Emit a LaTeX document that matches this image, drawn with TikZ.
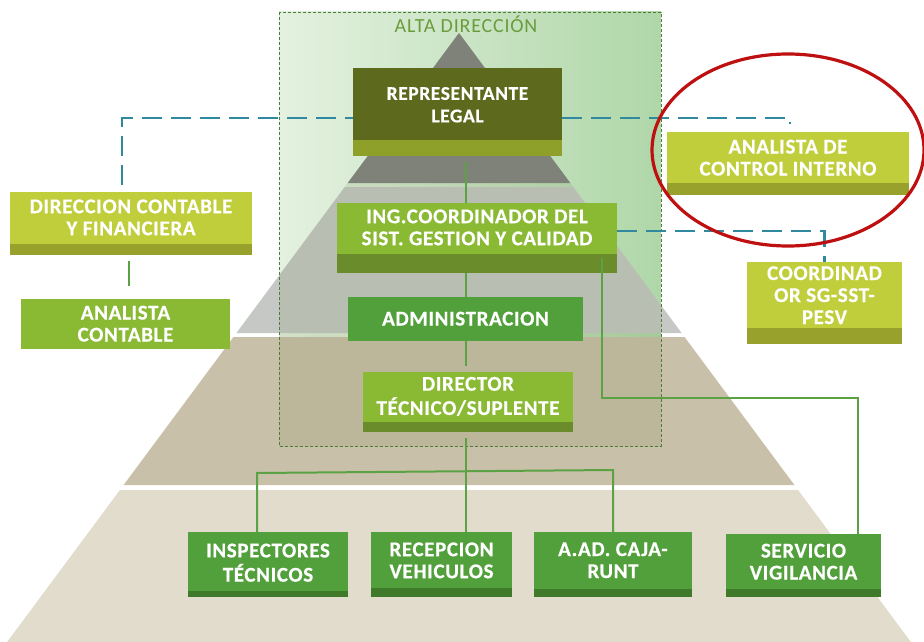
\documentclass[tikz,border=0pt]{standalone}
\usepackage{fontspec}
\setmainfont{Carlito}
\newfontfamily\boxfont[LetterSpace=3, FakeBold=0.5]{Carlito}
\newfontfamily\altafont[LetterSpace=4]{Carlito}
\usetikzlibrary{positioning}

\definecolor{altaL}{HTML}{E4F1E0}
\definecolor{altaR}{HTML}{AFD7A8}
\definecolor{altaline}{HTML}{4E7D3A}
\definecolor{altatext}{HTML}{6B9C3C}
\definecolor{layA}{HTML}{818181}
\definecolor{layB}{HTML}{C6C8C6}
\definecolor{layC}{HTML}{C9C0A9}
\definecolor{layD}{HTML}{E2DCCD}
\definecolor{boxolive}{HTML}{5D6A1E}
\definecolor{olivestrip}{HTML}{8FA02A}
\definecolor{boxlime}{HTML}{C1CE3C}
\definecolor{limestrip}{HTML}{98A12B}
\definecolor{boxleaf}{HTML}{8AB934}
\definecolor{leafstrip}{HTML}{6A8C2A}
\definecolor{boxgrass}{HTML}{52A03B}
\definecolor{grassstrip}{HTML}{3F7A2B}
\definecolor{linkgreen}{HTML}{5AA243}
\definecolor{dashteal}{HTML}{3189A0}
\definecolor{ringred}{HTML}{BE1010}

\newcommand{\boxtext}[2]{\raisebox{#1}[\height][\depth]{\begin{tabular}{@{}c@{}}#2\end{tabular}}}

\begin{document}
\begin{tikzpicture}[x=1pt, y=-1pt,
  orgbox/.style={inner sep=0pt, text=white, font=\boxfont\bfseries\fontsize{21}{22}\selectfont},
  strip/.style 2 args={path picture={\fill[#1] (path picture bounding box.south west) rectangle ([yshift=#2]path picture bounding box.south east);}},
  link/.style={draw=linkgreen, line width=2pt},
  dashlink/.style={draw=dashteal, line width=2.4pt, dash pattern=on 20pt off 9pt},
]
\useasboundingbox (0,0) rectangle (924,642);

\def\cx{459}
\def\sl{0.742}

\def\ya{33}
\def\yb{183}
\def\yc{187}
\def\yd{333}
\def\ye{337}
\def\yf{485}
\def\yg{490}
\def\yh{642}

% alta direccion backdrop
\shade[left color=altaL, right color=altaR] (279,12) rectangle (661,446);

% pyramid
\fill[layA] (\cx,\ya) -- ({\cx+\sl*(\yb-\ya)},\yb) -- ({\cx-\sl*(\yb-\ya)},\yb) -- cycle;
\fill[layB] ({\cx-\sl*(\yc-\ya)},\yc) -- ({\cx+\sl*(\yc-\ya)},\yc) -- ({\cx+\sl*(\yd-\ya)},\yd) -- ({\cx-\sl*(\yd-\ya)},\yd) -- cycle;
\fill[layC] ({\cx-\sl*(\ye-\ya)},\ye) -- ({\cx+\sl*(\ye-\ya)},\ye) -- ({\cx+\sl*(\yf-\ya)},\yf) -- ({\cx-\sl*(\yf-\ya)},\yf) -- cycle;
\fill[layD] ({\cx-\sl*(\yg-\ya)},\yg) -- ({\cx+\sl*(\yg-\ya)},\yg) -- ({\cx+\sl*(\yh-\ya)},\yh) -- ({\cx-\sl*(\yh-\ya)},\yh) -- cycle;

\begin{scope}
\clip (279,12) rectangle (661,446);
\fill[color={rgb,255:red,122;green,138;blue,85}, fill opacity=0.16] (\cx,\ya) -- ({\cx+\sl*(\yh-\ya)},\yh) -- ({\cx-\sl*(\yh-\ya)},\yh) -- cycle;
\end{scope}
\draw[altaline, line width=0.6pt, dash pattern=on 3pt off 2pt] (279,12) rectangle (661,446);
\node[anchor=base, text=altatext, font=\altafont\fontsize{20}{22}\selectfont] (alta) at (466,33) {ALTA DIRECCIÓN};

% boxes
\node[orgbox, fill=boxolive, strip={olivestrip}{16pt}, minimum width=209pt, minimum height=88pt, font=\boxfont\bfseries\fontsize{19.5}{22.5}\selectfont] (rep) at (457.5,112) {\boxtext{5.4pt}{REPRESENTANTE\\LEGAL}};
\node[orgbox, fill=boxlime, strip={limestrip}{12pt}, minimum width=242pt, minimum height=63pt] (aci) at (788,163.5) {\boxtext{3.4pt}{ANALISTA DE\\CONTROL INTERNO}};
\node[orgbox, fill=boxlime, strip={limestrip}{11pt}, minimum width=242pt, minimum height=63pt] (dcf) at (131,223.5) {\boxtext{3.7pt}{DIRECCION CONTABLE\\Y FINANCIERA}};
\node[orgbox, fill=boxleaf, minimum width=209pt, minimum height=50pt] (ac) at (125.5,324) {\boxtext{-2.1pt}{ANALISTA\\CONTABLE}};
\node[orgbox, fill=boxleaf, strip={leafstrip}{19pt}, minimum width=280pt, minimum height=70pt] (ing) at (477,238) {\boxtext{8.2pt}{ING.COORDINADOR DEL\\SIST. GESTION Y CALIDAD}};
\node[orgbox, fill=boxgrass, minimum width=235pt, minimum height=44pt] (adm) at (465.5,319) {\boxtext{-2.1pt}{ADMINISTRACION}};
\node[orgbox, fill=boxleaf, strip={leafstrip}{10pt}, minimum width=210pt, minimum height=60pt] (dir) at (468,402) {\boxtext{3.6pt}{DIRECTOR\\TÉCNICO/SUPLENTE}};
\node[orgbox, fill=boxlime, strip={limestrip}{16pt}, minimum width=155pt, minimum height=82pt] (coord) at (824.5,303) {\boxtext{5.4pt}{COORDINAD\\OR SG-SST-\\PESV}};

\node[orgbox, fill=boxgrass, strip={grassstrip}{6pt}, minimum width=160pt, minimum height=65pt] (insp) at (268,564.5) {\boxtext{-0.6pt}{INSPECTORES\\TÉCNICOS}};
\node[orgbox, fill=boxgrass, strip={grassstrip}{9pt}, minimum width=141pt, minimum height=65pt] (rec) at (441.5,564.5) {\boxtext{1.7pt}{RECEPCION\\VEHICULOS}};
\node[orgbox, fill=boxgrass, strip={grassstrip}{8pt}, minimum width=158pt, minimum height=65pt] (caja) at (613,564.5) {\boxtext{1.9pt}{A.AD. CAJA-\\RUNT}};
\node[orgbox, fill=boxgrass, strip={grassstrip}{8pt}, minimum width=155pt, minimum height=63pt] (vig) at (803.5,565.5) {\boxtext{1.4pt}{SERVICIO\\VIGILANCIA}};

% dashed links
\draw[dashlink] ([xshift=-9pt,yshift=7pt]dcf.north) |- ([yshift=-6pt]rep.west);
\draw[dashlink] ([yshift=-6pt]rep.east) -| ([xshift=2pt,yshift=8pt]aci.north);
\draw[dashlink] ([yshift=7pt]ing.east) -| (coord.north);

% solid links
\coordinate (busl) at (257,473);
\coordinate (busr) at (613,470);
\coordinate (vturn) at (858,398);

\draw[link, shorten <=6pt] (rep.south -| adm.north) -- (ing.north -| adm.north);
\draw[link] (ing.south -| adm.north) -- (adm.north);
\draw[link, shorten >=6pt] (adm.south) -- (dir.north -| adm.south);
\draw[link, shorten <=6pt] (dir.south -| adm.south) -- (rec.north -| adm.south);
\draw[link] (busl |- insp.north) -- (busl) -- (busr) -- (busr |- caja.north);
\draw[link, shorten <=6pt, shorten >=13pt] ([xshift=-2pt]dcf.south) -- ([xshift=-2pt]dcf.south |- ac.north);
\draw[link] ([xshift=-15pt,yshift=15pt]ing.south east) |- (vturn) -- (vturn |- vig.north);

% highlight
\draw[ringred, line width=3.2pt] (788,150) ellipse [x radius=136, y radius=96];

\end{tikzpicture}
\end{document}
